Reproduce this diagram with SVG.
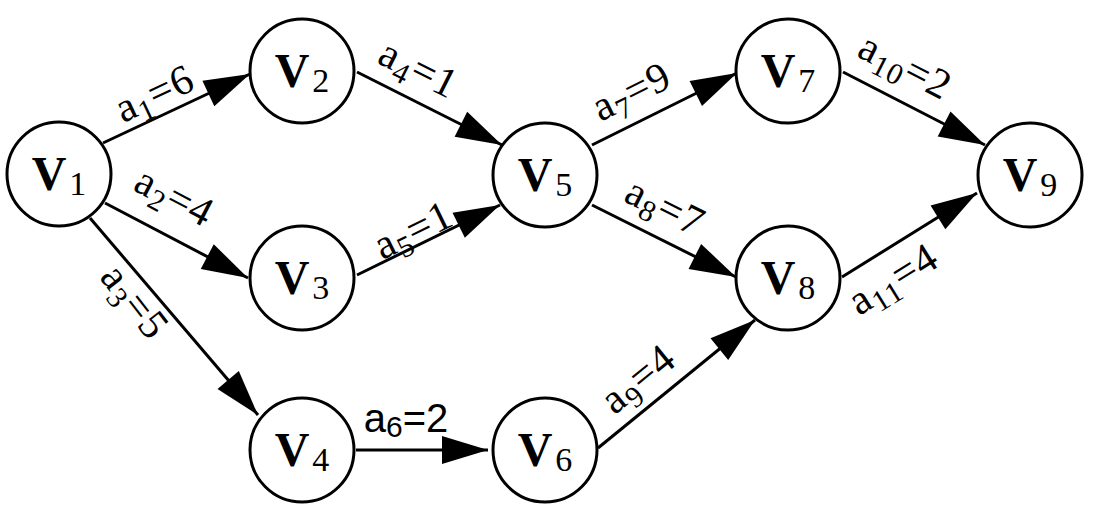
<svg xmlns="http://www.w3.org/2000/svg" width="1094" height="514" viewBox="0 0 1094 514">
<style>
.node circle{fill:#fff;stroke:#000;stroke-width:3}
.node text{font-family:"Liberation Serif","DejaVu Serif",serif;text-anchor:middle;fill:#000}
.v{font-size:48px;font-weight:bold}
.vs{font-size:34px;font-weight:normal}
.edge line{stroke:#000;stroke-width:3;marker-end:url(#arr)}
text.lbl{font-family:"Liberation Serif","DejaVu Serif",serif;font-size:42px;text-anchor:middle;fill:#000;letter-spacing:1px}
.sub{font-size:30px}
</style>
<defs>
<marker id="arr" markerUnits="userSpaceOnUse" markerWidth="52" markerHeight="32" viewBox="-48 -16 52 32" refX="0" refY="0" orient="auto">
<path d="M0,0 L-46,-14 L-46,14 Z" fill="#000"/>
</marker>
</defs>
<rect width="1094" height="514" fill="#fff"/>
<g id="connectors" class="edge">
<line x1="103" y1="143" x2="250" y2="74"/>
<line x1="105" y1="203" x2="248" y2="278"/>
<line x1="90" y1="218" x2="258" y2="415"/>
<line x1="357" y1="72" x2="502" y2="145"/>
<line x1="357" y1="275" x2="500" y2="205"/>
<line x1="356" y1="450" x2="488" y2="450"/>
<line x1="592" y1="145" x2="737" y2="73"/>
<line x1="592" y1="205" x2="736" y2="277"/>
<line x1="598" y1="448" x2="755" y2="320"/>
<line x1="843" y1="72" x2="985" y2="145"/>
<line x1="842" y1="277" x2="977" y2="193"/>
</g>
<g id="labels">
<text class="lbl" style="font-family:'Liberation Serif',serif" transform="translate(164,114) rotate(-25.1)" y="-9">a<tspan class="sub" dy="8">1</tspan><tspan dy="-8">=6</tspan></text>
<text class="lbl" style="font-family:'Liberation Serif',serif" transform="translate(157,230) rotate(27.7)" y="-24">a<tspan class="sub" dy="8">2</tspan><tspan dy="-8">=4</tspan></text>
<text class="lbl" style="font-family:'Liberation Serif',serif" transform="translate(151,289) rotate(52)" y="34">a<tspan class="sub" dy="8">3</tspan><tspan dy="-8">=5</tspan></text>
<text class="lbl" style="font-family:'Liberation Serif',serif" transform="translate(405,96) rotate(26.7)" y="-17">a<tspan class="sub" dy="8">4</tspan><tspan dy="-8">=1</tspan></text>
<text class="lbl" style="font-family:'Liberation Serif',serif" transform="translate(420,244) rotate(-26.1)" y="-2">a<tspan class="sub" dy="8">5</tspan><tspan dy="-8">=1</tspan></text>
<text class="lbl" x="406" y="432" style="font-family:'Liberation Sans',sans-serif;font-size:40px;letter-spacing:0">a<tspan class="sub" dy="5">6</tspan><tspan dy="-5">=2</tspan></text>
<text class="lbl" style="font-family:'Liberation Serif',serif" transform="translate(645,119) rotate(-26.4)" y="-17">a<tspan class="sub" dy="8">7</tspan><tspan dy="-8">=9</tspan></text>
<text class="lbl" style="font-family:'Liberation Serif',serif" transform="translate(651,235) rotate(26.7)" y="-18">a<tspan class="sub" dy="8">8</tspan><tspan dy="-8">=7</tspan></text>
<text class="lbl" style="font-family:'Liberation Serif',serif" transform="translate(656,401) rotate(-39.2)" y="-15">a<tspan class="sub" dy="8">9</tspan><tspan dy="-8">=4</tspan></text>
<text class="lbl" style="font-family:'Liberation Serif',serif" transform="translate(890,96) rotate(27.2)" y="-20">a<tspan class="sub" dy="8">10</tspan><tspan dy="-8">=2</tspan></text>
<text class="lbl" style="font-family:'Liberation Serif',serif" transform="translate(878,255) rotate(-31.9)" y="42">a<tspan class="sub" dy="8">11</tspan><tspan dy="-8">=4</tspan></text>
</g>
<g id="V1" class="node"><circle cx="59" cy="174" r="52"/><text x="59" y="190"><tspan class="v">V</tspan><tspan class="vs" dx="3" dy="5">1</tspan></text></g>
<g id="V2" class="node"><circle cx="302" cy="71" r="52"/><text x="302" y="87"><tspan class="v">V</tspan><tspan class="vs" dx="3" dy="5">2</tspan></text></g>
<g id="V3" class="node"><circle cx="302" cy="278" r="52"/><text x="302" y="294"><tspan class="v">V</tspan><tspan class="vs" dx="3" dy="5">3</tspan></text></g>
<g id="V4" class="node"><circle cx="302" cy="450" r="52"/><text x="302" y="466"><tspan class="v">V</tspan><tspan class="vs" dx="3" dy="5">4</tspan></text></g>
<g id="V5" class="node"><circle cx="545" cy="175" r="52"/><text x="545" y="191"><tspan class="v">V</tspan><tspan class="vs" dx="3" dy="5">5</tspan></text></g>
<g id="V6" class="node"><circle cx="545" cy="450" r="52"/><text x="545" y="466"><tspan class="v">V</tspan><tspan class="vs" dx="3" dy="5">6</tspan></text></g>
<g id="V7" class="node"><circle cx="788" cy="71" r="52"/><text x="788" y="87"><tspan class="v">V</tspan><tspan class="vs" dx="3" dy="5">7</tspan></text></g>
<g id="V8" class="node"><circle cx="788" cy="278" r="52"/><text x="788" y="294"><tspan class="v">V</tspan><tspan class="vs" dx="3" dy="5">8</tspan></text></g>
<g id="V9" class="node"><circle cx="1030" cy="175" r="52"/><text x="1030" y="191"><tspan class="v">V</tspan><tspan class="vs" dx="3" dy="5">9</tspan></text></g>
</svg>
